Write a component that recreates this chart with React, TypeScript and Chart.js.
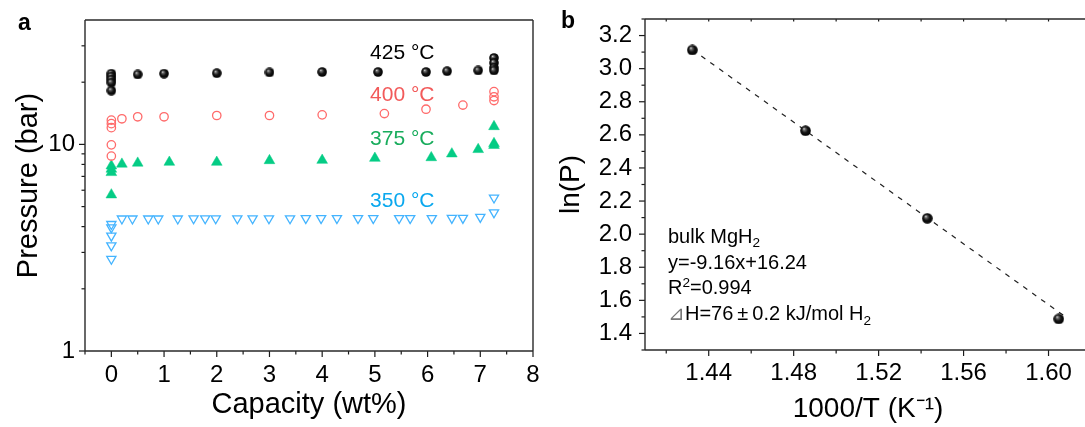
import React, { useEffect, useRef } from 'react';
import { Chart, registerables } from 'chart.js';
Chart.register(...registerables);

const FONT = '"Liberation Sans", Arial, Helvetica, sans-serif';

// ---------- Panel a: Pressure vs capacity ----------
const CAP_425 = [0, 0, 0, 0, 0, 0.5, 1.0, 2.0, 3.0, 4.0, 5.06, 5.97, 6.37, 6.96, 7.26, 7.26, 7.26, 7.26];
const P_425 = [22.0, 21.3, 20.6, 19.9, 18.2, 21.8, 22.0, 22.1, 22.3, 22.4, 22.4, 22.4, 22.6, 22.8, 26.2, 24.8, 23.5, 22.8];

const CAP_400 = [0, 0, 0, 0, 0, 0.2, 0.5, 1.0, 2.0, 3.0, 4.0, 5.18, 5.97, 6.67, 7.26, 7.26, 7.26];
const P_400 = [13.1, 12.6, 12.05, 9.95, 8.78, 13.3, 13.6, 13.6, 13.8, 13.8, 13.9, 14.1, 14.8, 15.5, 18.0, 17.0, 16.3];

const CAP_375 = [0, 0, 0, 0, 0.2, 0.5, 1.1, 2.0, 3.0, 4.0, 5.0, 6.07, 6.46, 6.96, 7.26, 7.26, 7.26];
const P_375 = [7.87, 7.59, 7.31, 5.7, 8.03, 8.12, 8.2, 8.2, 8.35, 8.38, 8.57, 8.63, 9.0, 9.45, 12.2, 10.1, 9.9];

const CAP_350 = [0, 0, 0, 0, 0, 0.2, 0.4, 0.7, 0.89, 1.26, 1.56, 1.78, 1.98, 2.39, 2.68, 2.99, 3.39, 3.69, 3.98, 4.28, 4.68, 4.97, 5.46, 5.67, 6.08, 6.46, 6.67, 7.0, 7.26, 7.26];
const P_350 = [4.11, 3.96, 3.61, 3.24, 2.79, 4.37, 4.37, 4.37, 4.37, 4.37, 4.38, 4.38, 4.38, 4.38, 4.38, 4.38, 4.38, 4.39, 4.39, 4.39, 4.39, 4.39, 4.39, 4.39, 4.39, 4.4, 4.4, 4.45, 5.52, 4.68];

const A_X_MAJOR = [0, 1, 2, 3, 4, 5, 6, 7, 8];
const A_X_MINOR = [-0.5, 0.5, 1.5, 2.5, 3.5, 4.5, 5.5, 6.5, 7.5];
const A_Y_MAJOR = [1, 10];
const A_Y_MINOR = [2, 3, 4, 5, 6, 7, 8, 9, 20, 30];

const TEMP_LABELS = ['425 °C', '400 °C', '375 °C', '350 °C'];
const TEMP_LABEL_X = 5.52;
const TEMP_LABEL_P = [27.7, 17.3, 10.6, 5.33];
const TEMP_LABEL_COLORS = ['#000000', '#f25a5a', '#18ac5c', '#0aa8ee'];

// ---------- Panel b: van 't Hoff ----------
const INV_T = [1.4323, 1.4856, 1.5429, 1.6048];
const LN_P = [3.113, 2.625, 2.096, 1.488];
const FIT_X = [1.4323, 1.6075];
const FIT_Y = [3.115, 1.505];

const B_X_MAJOR = [1.44, 1.48, 1.52, 1.56, 1.6];
const B_X_MINOR = [1.42, 1.46, 1.5, 1.54, 1.58, 1.62];
const B_Y_MAJOR = [1.4, 1.6, 1.8, 2.0, 2.2, 2.4, 2.6, 2.8, 3.0, 3.2];
const B_Y_MINOR = [1.3, 1.5, 1.7, 1.9, 2.1, 2.3, 2.5, 2.7, 2.9, 3.1, 3.3];

type Part = [string, 'n' | 'sub' | 'sup'];
const ANNOT_LINES: Part[][] = [
  [['bulk MgH', 'n'], ['2', 'sub']],
  [['y=-9.16x+16.24', 'n']],
  [['R', 'n'], ['2', 'sup'], ['=0.994', 'n']],
  [['⊿', 'n'], ['H=76\u2009±\u20090.2 kJ/mol H', 'n'], ['2', 'sub']],
];

function makeSphere(d: number) {
  const c = document.createElement('canvas');
  c.width = d;
  c.height = d;
  const ctx = c.getContext('2d')!;
  const r = d / 2;
  const g = ctx.createRadialGradient(r * 0.7, r * 0.62, 0, r, r, r);
  g.addColorStop(0, '#f0f0f0');
  g.addColorStop(0.22, '#6a6a6a');
  g.addColorStop(0.55, '#141414');
  g.addColorStop(1, '#000000');
  ctx.fillStyle = g;
  ctx.beginPath();
  ctx.arc(r, r, r - 0.2, 0, Math.PI * 2);
  ctx.fill();
  return c;
}

type TickSpec = { axis: string; values: number[]; len: number; edge: 'bottom' | 'top' | 'left'; dir: 1 | -1 };

function drawFrameAndTicks(chart: any, specs: TickSpec[], edges: string[]) {
  const { ctx, chartArea: a } = chart;
  ctx.save();
  ctx.strokeStyle = '#1a1a1a';
  ctx.lineWidth = 1.2;
  for (const s of specs) {
    const scale = chart.scales[s.axis];
    for (const v of s.values) {
      const p = scale.getPixelForValue(v);
      ctx.beginPath();
      if (s.edge === 'bottom') {
        ctx.moveTo(p, a.bottom);
        ctx.lineTo(p, a.bottom + s.dir * s.len);
      } else if (s.edge === 'top') {
        ctx.moveTo(p, a.top);
        ctx.lineTo(p, a.top + s.dir * s.len);
      } else {
        ctx.moveTo(a.left, p);
        ctx.lineTo(a.left - s.dir * s.len, p);
      }
      ctx.stroke();
    }
  }
  ctx.strokeStyle = '#2a2a2a';
  ctx.lineWidth = 1.4;
  ctx.beginPath();
  if (edges.includes('top')) { ctx.moveTo(a.left, a.top); ctx.lineTo(a.right, a.top); }
  if (edges.includes('right')) { ctx.moveTo(a.right, a.top); ctx.lineTo(a.right, a.bottom); }
  if (edges.includes('bottom')) { ctx.moveTo(a.left, a.bottom); ctx.lineTo(a.right, a.bottom); }
  if (edges.includes('left')) { ctx.moveTo(a.left, a.top); ctx.lineTo(a.left, a.bottom); }
  ctx.stroke();
  ctx.restore();
}

function drawRich(ctx: CanvasRenderingContext2D, parts: Part[], x: number, centerY: number, size: number) {
  const base = centerY + size * 0.36;
  let cx = x;
  for (const [t, m] of parts) {
    const fs = m === 'n' ? size : size * 0.68;
    ctx.font = `${fs}px ${FONT}`;
    const dy = m === 'sub' ? size * 0.22 : m === 'sup' ? -size * 0.38 : 0;
    ctx.fillStyle = t === '⊿' ? '#777' : '#000';
    ctx.fillText(t, cx, base + dy);
    cx += ctx.measureText(t).width;
  }
}

const tickFont = (size: number) => ({ family: FONT, size });
const noPad = (s: any) => { s.paddingTop = 0; s.paddingBottom = 0; s.paddingLeft = 0; s.paddingRight = 0; };

export default function App() {
  const refA = useRef<HTMLCanvasElement>(null);
  const refB = useRef<HTMLCanvasElement>(null);

  useEffect(() => {
    const sphereA = makeSphere(10);
    const sphereB = makeSphere(11);
    const pts = (xs: number[], ys: number[]) => xs.map((x, i) => ({ x, y: ys[i] }));

    const pluginA = {
      id: 'panelA',
      afterDraw(chart: any) {
        drawFrameAndTicks(
          chart,
          [
            { axis: 'x', values: A_X_MAJOR, len: 6, edge: 'bottom', dir: 1 },
            { axis: 'x', values: A_X_MINOR, len: 3.5, edge: 'bottom', dir: 1 },
            { axis: 'y', values: A_Y_MAJOR, len: 6, edge: 'left', dir: 1 },
            { axis: 'y', values: A_Y_MINOR, len: 3.5, edge: 'left', dir: 1 },
          ],
          ['top', 'right', 'bottom', 'left']
        );
        const { ctx } = chart;
        ctx.save();
        ctx.textAlign = 'center';
        ctx.textBaseline = 'middle';
        ctx.font = `21px ${FONT}`;
        TEMP_LABELS.forEach((t, i) => {
          ctx.fillStyle = TEMP_LABEL_COLORS[i];
          ctx.fillText(t, chart.scales.x.getPixelForValue(TEMP_LABEL_X), chart.scales.y.getPixelForValue(TEMP_LABEL_P[i]));
        });
        ctx.textAlign = 'left';
        ctx.textBaseline = 'alphabetic';
        ctx.fillStyle = '#000';
        ctx.font = `bold 23px ${FONT}`;
        ctx.fillText('a', 18, 30);
        ctx.restore();
      },
    };

    const chartA = new Chart(refA.current!, {
      type: 'scatter',
      data: {
        datasets: [
          {
            data: pts(CAP_425, P_425),
            pointStyle: sphereA as any,
            pointRadius: 5,
          },
          {
            data: pts(CAP_400, P_400),
            pointStyle: 'circle',
            pointRadius: 4.2,
            borderColor: '#ff6a6a',
            backgroundColor: 'rgba(255,255,255,0)',
            borderWidth: 1.3,
          },
          {
            data: pts(CAP_375, P_375),
            pointStyle: 'triangle',
            pointRadius: 6.2,
            borderColor: '#05cc85',
            backgroundColor: '#05cc85',
            borderWidth: 0.5,
          },
          {
            data: pts(CAP_350, P_350),
            pointStyle: 'triangle',
            rotation: 180,
            pointRadius: 5.3,
            borderColor: '#44b4ff',
            backgroundColor: 'rgba(255,255,255,0)',
            borderWidth: 1.3,
          },
        ] as any,
      },
      options: {
        animation: false,
        responsive: false,
        maintainAspectRatio: false,
        events: [],
        layout: { padding: { top: 20, right: 12, left: 0, bottom: 0 } },
        plugins: { legend: { display: false }, tooltip: { enabled: false } },
        scales: {
          x: {
            type: 'linear',
            min: -0.5,
            max: 8,
            afterBuildTicks: (s: any) => { s.ticks = A_X_MAJOR.map((v) => ({ value: v })); },
            afterFit: (s: any) => { s.height = 76; noPad(s); },
            grid: { display: false, drawTicks: false },
            border: { display: false },
            ticks: { font: tickFont(24), color: '#000', padding: 10, maxRotation: 0, autoSkip: false, callback: (v: any) => String(v) },
            title: { display: true, text: 'Capacity (wt%)', color: '#000', font: { family: FONT, size: 29 }, padding: { top: 0, bottom: 5 } },
          },
          y: {
            type: 'logarithmic',
            min: 1,
            max: 40,
            afterBuildTicks: (s: any) => { s.ticks = A_Y_MAJOR.map((v) => ({ value: v })); },
            afterFit: (s: any) => { s.width = 85; noPad(s); },
            grid: { display: false, drawTicks: false },
            border: { display: false },
            ticks: { font: tickFont(24), color: '#000', padding: 10, autoSkip: false, callback: (v: any) => String(v) },
            title: { display: true, text: 'Pressure (bar)', color: '#000', font: { family: FONT, size: 29 }, padding: { top: 12, bottom: 0 } },
          },
        },
      } as any,
      plugins: [pluginA],
    });

    const pluginB = {
      id: 'panelB',
      afterDraw(chart: any) {
        drawFrameAndTicks(
          chart,
          [
            { axis: 'x', values: B_X_MAJOR, len: 6, edge: 'bottom', dir: 1 },
            { axis: 'x', values: B_X_MINOR, len: 3.5, edge: 'bottom', dir: 1 },
            { axis: 'x', values: B_X_MAJOR.concat(B_X_MINOR), len: 2.5, edge: 'top', dir: 1 },
            { axis: 'y', values: B_Y_MAJOR, len: 6, edge: 'left', dir: 1 },
            { axis: 'y', values: B_Y_MINOR, len: 3.5, edge: 'left', dir: 1 },
          ],
          ['top', 'right', 'bottom', 'left']
        );
        const { ctx, chartArea: a } = chart;
        ctx.save();
        ctx.textAlign = 'left';
        ctx.textBaseline = 'alphabetic';
        const offsets = [216.5, 242.5, 268, 294];
        ANNOT_LINES.forEach((parts, i) => drawRich(ctx, parts, a.left + 23, a.top + offsets[i], 20));
        ctx.fillStyle = '#000';
        ctx.font = `bold 23px ${FONT}`;
        ctx.fillText('b', 7, 28);
        ctx.restore();
      },
    };

    const chartB = new Chart(refB.current!, {
      type: 'scatter',
      data: {
        datasets: [
          {
            data: pts(INV_T, LN_P),
            pointStyle: sphereB as any,
            pointRadius: 5.5,
          },
          {
            data: pts(FIT_X, FIT_Y),
            showLine: true,
            pointRadius: 0,
            borderColor: '#222',
            borderWidth: 1.2,
            borderDash: [5, 6],
            fill: false,
          },
        ] as any,
      },
      options: {
        animation: false,
        responsive: false,
        maintainAspectRatio: false,
        events: [],
        layout: { padding: { top: 19, right: 9, left: 0, bottom: 0 } },
        plugins: { legend: { display: false }, tooltip: { enabled: false } },
        scales: {
          x: {
            type: 'linear',
            min: 1.41,
            max: 1.62,
            afterBuildTicks: (s: any) => { s.ticks = B_X_MAJOR.map((v) => ({ value: v })); },
            afterFit: (s: any) => { s.height = 77; noPad(s); },
            grid: { display: false, drawTicks: false },
            border: { display: false },
            ticks: { font: tickFont(24), color: '#000', padding: 9, maxRotation: 0, autoSkip: false, callback: (v: any) => Number(v).toFixed(2) },
            title: { display: true, text: '1000/T (K⁻¹)', color: '#000', font: { family: FONT, size: 28 }, padding: { top: 0, bottom: 1 } },
          },
          y: {
            type: 'linear',
            min: 1.3,
            max: 3.3,
            afterBuildTicks: (s: any) => { s.ticks = B_Y_MAJOR.map((v) => ({ value: v })); },
            afterFit: (s: any) => { s.width = 91; noPad(s); },
            grid: { display: false, drawTicks: false },
            border: { display: false },
            ticks: { font: tickFont(24), color: '#000', padding: 13, autoSkip: false, callback: (v: any) => Number(v).toFixed(1) },
            title: { display: true, text: 'ln(P)', color: '#000', font: { family: FONT, size: 28 }, padding: { top: 0, bottom: 0 } },
          },
        },
      } as any,
      plugins: [pluginB],
    });

    return () => {
      chartA.destroy();
      chartB.destroy();
    };
  }, []);

  return (
    <div style={{ position: 'absolute', left: 0, top: 0, width: 1085, height: 427, overflow: 'hidden', background: '#fff' }}>
      <canvas ref={refA} width={545} height={427} style={{ position: 'absolute', left: 0, top: 0, width: 545, height: 427 }} />
      <canvas ref={refB} width={546} height={427} style={{ position: 'absolute', left: 554, top: 0, width: 546, height: 427 }} />
    </div>
  );
}
